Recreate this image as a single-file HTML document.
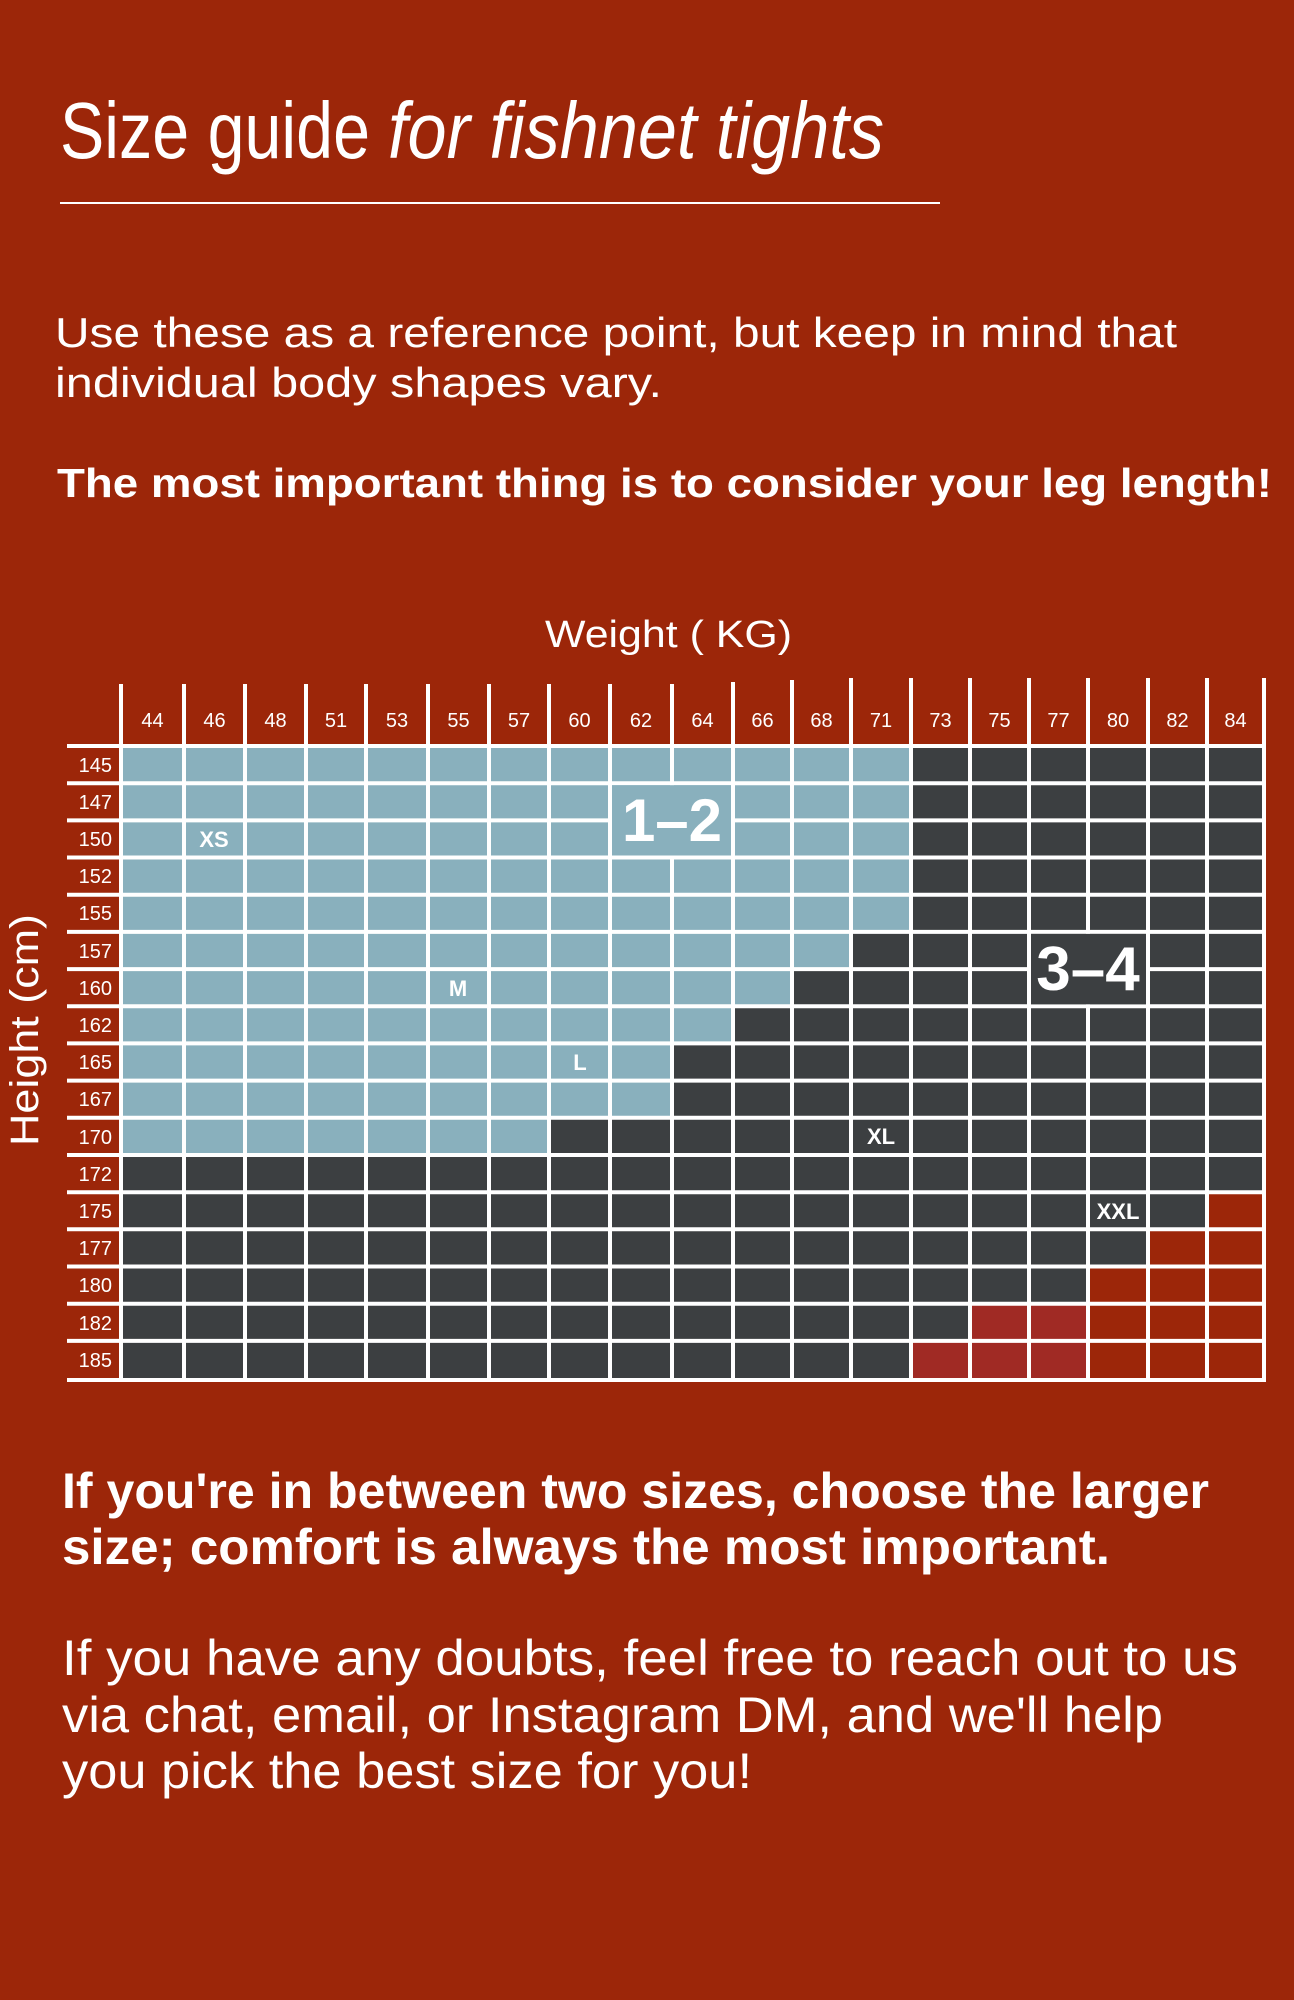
<!DOCTYPE html>
<html><head><meta charset="utf-8"><style>
html,body{margin:0;padding:0;background:#9c2609;}
svg{display:block;}
text{font-family:"Liberation Sans",sans-serif;fill:#fff;}
</style></head><body>
<svg width="1294" height="2000" viewBox="0 0 1294 2000" xmlns="http://www.w3.org/2000/svg">
<rect width="1294" height="2000" fill="#9c2609"/>
<text x="60" y="158" font-size="80" textLength="310" lengthAdjust="spacingAndGlyphs">Size guide</text>
<text x="388" y="158" font-size="80" font-style="italic" textLength="496" lengthAdjust="spacingAndGlyphs">for fishnet tights</text>
<rect x="60" y="202" width="880" height="2" fill="#fff"/>
<text x="55" y="347" font-size="42" textLength="1122" lengthAdjust="spacingAndGlyphs">Use these as a reference point, but keep in mind that</text>
<text x="55" y="397" font-size="42" textLength="607" lengthAdjust="spacingAndGlyphs">individual body shapes vary.</text>
<text x="57" y="497" font-size="41" font-weight="bold" textLength="1215" lengthAdjust="spacingAndGlyphs">The most important thing is to consider your leg length!</text>
<text x="545" y="647" font-size="38" textLength="247" lengthAdjust="spacingAndGlyphs">Weight ( KG)</text>
<text transform="translate(38,1030) rotate(-90)" x="0" y="0" font-size="40" text-anchor="middle" textLength="232" lengthAdjust="spacingAndGlyphs">Height (cm)</text>

<rect x="121" y="746" width="1143" height="634" fill="#3c3f41"/>
<polygon fill="#89b0bd" points="121,746 911,746 911,931.9 851,931.9 851,969.1 792,969.1 792,1006.3 733,1006.3 733,1043.4 672,1043.4 672,1117.8 549,1117.8 549,1155 121,1155"/>
<polygon fill="#9c2609" points="1207,1192.2 1264,1192.2 1264,1380 1088,1380 1088,1266.5 1148,1266.5 1148,1229.3 1207,1229.3"/>
<polygon fill="#a02a24" points="970,1303.7 1088,1303.7 1088,1380 911,1380 911,1340.9 970,1340.9"/>

<g stroke="#fff" stroke-width="4">
<line x1="121" y1="684" x2="121" y2="1382"/><line x1="184" y1="684" x2="184" y2="1382"/><line x1="245" y1="684" x2="245" y2="1382"/><line x1="306" y1="684" x2="306" y2="1382"/><line x1="366" y1="684" x2="366" y2="1382"/><line x1="428" y1="684" x2="428" y2="1382"/><line x1="489" y1="684" x2="489" y2="1382"/><line x1="549" y1="684" x2="549" y2="1382"/><line x1="610" y1="684" x2="610" y2="1382"/><line x1="672" y1="684" x2="672" y2="1382"/><line x1="733" y1="682" x2="733" y2="1382"/><line x1="792" y1="680" x2="792" y2="1382"/><line x1="851" y1="678" x2="851" y2="1382"/><line x1="911" y1="678" x2="911" y2="1382"/><line x1="970" y1="678" x2="970" y2="1382"/><line x1="1029" y1="678" x2="1029" y2="1382"/><line x1="1088" y1="678" x2="1088" y2="1382"/><line x1="1148" y1="678" x2="1148" y2="1382"/><line x1="1207" y1="678" x2="1207" y2="1382"/><line x1="1264" y1="678" x2="1264" y2="1382"/>
<line x1="67" y1="746" x2="1266" y2="746"/><line x1="67" y1="783.2" x2="1266" y2="783.2"/><line x1="67" y1="820.4" x2="1266" y2="820.4"/><line x1="67" y1="857.5" x2="1266" y2="857.5"/><line x1="67" y1="894.7" x2="1266" y2="894.7"/><line x1="67" y1="931.9" x2="1266" y2="931.9"/><line x1="67" y1="969.1" x2="1266" y2="969.1"/><line x1="67" y1="1006.3" x2="1266" y2="1006.3"/><line x1="67" y1="1043.4" x2="1266" y2="1043.4"/><line x1="67" y1="1080.6" x2="1266" y2="1080.6"/><line x1="67" y1="1117.8" x2="1266" y2="1117.8"/><line x1="67" y1="1155" x2="1266" y2="1155"/><line x1="67" y1="1192.2" x2="1266" y2="1192.2"/><line x1="67" y1="1229.3" x2="1266" y2="1229.3"/><line x1="67" y1="1266.5" x2="1266" y2="1266.5"/><line x1="67" y1="1303.7" x2="1266" y2="1303.7"/><line x1="67" y1="1340.9" x2="1266" y2="1340.9"/><line x1="67" y1="1380" x2="1266" y2="1380"/>
</g>

<rect x="612" y="785.2" width="119" height="70.3" fill="#89b0bd"/>
<text x="672" y="841" font-size="60" font-weight="bold" text-anchor="middle">1–2</text>
<rect x="1031" y="933.9" width="115" height="70.4" fill="#3c3f41"/>
<text x="1088" y="990" font-size="62" font-weight="bold" text-anchor="middle">3–4</text>

<g font-size="20" text-anchor="middle">
<text x="152.5" y="727">44</text><text x="214.5" y="727">46</text><text x="275.5" y="727">48</text><text x="336" y="727">51</text><text x="397" y="727">53</text><text x="458.5" y="727">55</text><text x="519" y="727">57</text><text x="579.5" y="727">60</text><text x="641" y="727">62</text><text x="702.5" y="727">64</text><text x="762.5" y="727">66</text><text x="821.5" y="727">68</text><text x="881" y="727">71</text><text x="940.5" y="727">73</text><text x="999.5" y="727">75</text><text x="1058.5" y="727">77</text><text x="1118" y="727">80</text><text x="1177.5" y="727">82</text><text x="1235.5" y="727">84</text>
</g>
<g font-size="20" text-anchor="end">
<text x="112" y="772">145</text><text x="112" y="809">147</text><text x="112" y="846">150</text><text x="112" y="883">152</text><text x="112" y="920">155</text><text x="112" y="958">157</text><text x="112" y="995">160</text><text x="112" y="1032">162</text><text x="112" y="1069">165</text><text x="112" y="1106">167</text><text x="112" y="1144">170</text><text x="112" y="1181">172</text><text x="112" y="1218">175</text><text x="112" y="1255">177</text><text x="112" y="1292">180</text><text x="112" y="1330">182</text><text x="112" y="1367">185</text>
</g>
<g font-size="22" font-weight="bold" text-anchor="middle">
<text x="214" y="847">XS</text>
<text x="458" y="996">M</text>
<text x="580" y="1070">L</text>
<text x="881" y="1144">XL</text>
<text x="1118" y="1219">XXL</text>
</g>

<text x="62" y="1508" font-size="50" font-weight="bold" textLength="1147" lengthAdjust="spacingAndGlyphs">If you're in between two sizes, choose the larger</text>
<text x="62" y="1564" font-size="50" font-weight="bold" textLength="1048" lengthAdjust="spacingAndGlyphs">size; comfort is always the most important.</text>
<text x="62" y="1675" font-size="50" textLength="1176" lengthAdjust="spacingAndGlyphs">If you have any doubts, feel free to reach out to us</text>
<text x="62" y="1732" font-size="50" textLength="1101" lengthAdjust="spacingAndGlyphs">via chat, email, or Instagram DM, and we'll help</text>
<text x="62" y="1788" font-size="50" textLength="690" lengthAdjust="spacingAndGlyphs">you pick the best size for you!</text>
</svg>
</body></html>
